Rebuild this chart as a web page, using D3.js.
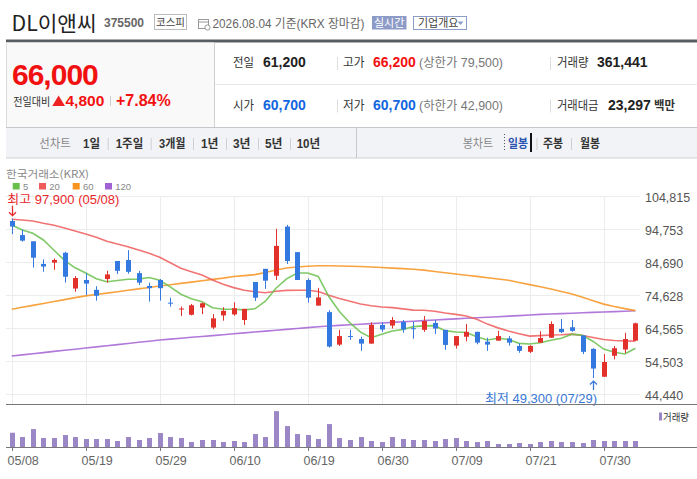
<!DOCTYPE html>
<html><head><meta charset="utf-8">
<script src="https://cdn.jsdelivr.net/npm/d3@7"></script>
<style>
html,body{margin:0;padding:0;background:#fff;}
svg{display:block;}
</style>
</head><body>
<svg id="c" width="697" height="479"></svg>
<script>
// ---------- data ----------
const dates = ["05/08","05/11","05/12","05/13","05/14","05/15","05/18","05/19","05/20","05/21",
"05/22","05/26","05/27","05/28","05/29","06/01","06/02","06/04","06/05","06/08",
"06/09","06/10","06/11","06/12","06/15","06/16","06/17","06/18","06/19","06/22",
"06/23","06/24","06/25","06/26","06/29","06/30","07/01","07/02","07/03","07/06",
"07/07","07/08","07/09","07/10","07/13","07/14","07/15","07/16","07/20","07/21",
"07/22","07/23","07/24","07/27","07/28","07/29","07/30","07/31","08/03","08/04"];
const openP = [97200,92900,91000,84100,84500,87500,76600,79200,76200,79500,
85000,85300,81300,77400,79200,72300,70200,68600,70800,64700,
68400,68700,67000,78600,82600,80500,95500,87700,79200,71400,
69400,59500,62100,61200,59800,65500,65300,66400,64500,64000,
66100,64000,59200,61900,63400,60400,60700,61400,59100,57300,
60100,61600,64300,64800,62300,58200,49700,56100,58000,60700];
const highP = [97900,94600,91000,85500,85800,87800,80400,81200,77300,82000,
85000,88300,82000,78400,79500,73800,71100,71900,72300,68800,
70900,72400,70400,78600,82600,94800,96000,87700,79700,76800,
70000,64000,64000,61900,66300,66300,67900,67000,66400,68200,
67000,64000,62100,65800,63400,61600,63700,62100,59900,59300,
63600,66600,67300,67000,62300,58400,56600,59100,63100,66200];
const lowP = [93200,90900,83000,81700,82300,78400,75600,74600,72900,78400,
81000,81100,77700,72600,72900,71100,68200,68400,68800,64200,
66800,68300,65500,72800,76500,79200,84100,79200,72300,71400,
58600,59100,60900,57600,59800,63400,64400,63100,61300,63400,
62700,57900,58300,60500,59600,57600,60700,59200,57000,56900,
60100,61600,63000,63400,56600,49300,49700,55000,56900,60700];
const closeP = [95500,91200,86000,83300,85300,80200,79800,78100,74400,80900,
82000,81700,78400,76700,76700,72000,70500,71500,72100,67500,
69800,70600,70400,73800,79000,89600,85000,79200,73800,73900,
58900,62100,61800,59800,65500,64100,67000,64100,64200,66700,
64400,59400,62100,63400,60100,59500,62100,60100,57600,59100,
61500,65800,63300,63700,57300,52200,54200,58400,61200,66000];
const volume = [862000,602000,1084000,542000,542000,723000,602000,482000,482000,482000,
361000,602000,422000,542000,843000,602000,542000,301000,422000,422000,
301000,361000,301000,783000,602000,2169000,1265000,783000,723000,482000,
1386000,542000,422000,602000,361000,301000,602000,482000,422000,422000,
361000,482000,542000,361000,301000,361000,181000,181000,241000,181000,
301000,361000,301000,301000,241000,422000,361000,361000,361000,361441];
const ma5 = [95970,94450,93440,91400,88260,85200,82920,81340,79560,78680,
79040,79420,79480,79940,79100,77100,74860,73480,72560,70720,
70280,70300,70080,70420,72720,76680,79560,81320,81320,80300,
74160,69580,66100,63300,61620,62660,63640,64100,64980,65220,
65280,63760,63360,63200,61880,60900,61440,61040,59880,59680,
60080,60820,61460,62680,62320,60460,58140,57160,56660,58400];
const ma20 = [97710,97500,97190,96490,95880,95060,94140,93230,92220,91000,
90180,89350,88350,87340,86120,84480,82770,81730,80730,79190,
77905,76875,76095,75620,75305,75775,76035,76090,76060,75710,
74555,73575,72745,71900,71340,70945,70770,70400,70005,69965,
69695,69135,68720,68200,67255,65750,64605,63650,62840,62100,
62230,62415,62490,62685,62275,61680,61040,60755,60605,60570];
const ma60 = [70270,70880,71460,72040,72650,73220,73830,74350,74780,75210,
75630,76060,76490,76910,77370,77770,78160,78560,78990,79380,
79780,80270,80540,80850,81490,82250,82860,83160,83380,83530,
83530,83470,83410,83320,83160,83010,82830,82680,82460,82220,
81790,81400,81030,80670,80300,79870,79510,79110,78440,77800,
77160,76430,75690,74930,73930,72890,71850,71120,70480,69870];
const ma120 = [56030,56360,56730,57060,57430,57770,58100,58470,58800,59140,
59500,59840,60200,60540,60910,61180,61450,61730,61970,62250,
62520,62800,63070,63350,63620,63860,64140,64410,64690,64960,
65170,65360,65540,65720,65910,66090,66270,66450,66640,66820,
67000,67190,67340,67520,67670,67860,68010,68190,68350,68530,
68710,68830,68960,69080,69200,69320,69440,69570,69690,69810];
const priceTicks = [44440,54503,64565,74628,84690,94753,104815];
const dateTicks = ["05/08","05/19","05/29","06/10","06/19","06/30","07/09","07/21","07/30"];
const maNames = ["5","20","60","120"];
const maColors = ["#68c04c","#ef5b5b","#f7931e","#a262d4"];

// header values
const stockName = "DL이앤씨", stockCode = "375500", market = "코스피";
const asOf = "2026.08.04 기준(KRX 장마감)";
const curPrice = "66,000", chg = "4,800", chgPct = "+7.84%";
const prevClose = "61,200", openTxt = "60,700", highTxt = "66,200", lowTxt = "60,700";
const upLimit = "(상한가 79,500)", downLimit = "(하한가 42,900)";
const volTxt = "361,441", amtTxt = "23,297";

// ---------- drawing ----------
const svg = d3.select("#c");
const LF = "'Liberation Sans','Noto Sans CJK KR',sans-serif";
const KF = "'Noto Sans CJK KR','Liberation Sans',sans-serif";
function txt(x, y, s, o = {}) {
  const t = svg.append("text").attr("x", x).attr("y", y).text(s)
    .attr("font-family", o.ff || KF).attr("font-size", o.fs || 12)
    .attr("fill", o.c || "#333");
  if (o.fw) t.attr("font-weight", o.fw);
  if (o.anchor) t.attr("text-anchor", o.anchor);
  if (o.tl) t.attr("textLength", o.tl).attr("lengthAdjust", "spacingAndGlyphs");
  if (o.ls !== undefined) t.attr("letter-spacing", o.ls);
  return t;
}
function hline(x1, x2, yy, c, w = 1) {
  svg.append("line").attr("x1", x1).attr("x2", x2).attr("y1", yy).attr("y2", yy)
    .attr("stroke", c).attr("stroke-width", w);
}
function vline(xx, y1, y2, c, w = 1, dash) {
  const l = svg.append("line").attr("x1", xx).attr("x2", xx).attr("y1", y1).attr("y2", y2)
    .attr("stroke", c).attr("stroke-width", w);
  if (dash) l.attr("stroke-dasharray", dash);
}

// title row
txt(11.5, 30.5, stockName, {fs: 21, c: "#222", tl: 85});
txt(104, 27, stockCode, {ff: LF, fs: 12, fw: "bold", c: "#666"});
svg.append("rect").attr("x", 154.5).attr("y", 14.5).attr("width", 32).attr("height", 15)
  .attr("fill", "#fff").attr("stroke", "#bbb");
txt(170.5, 26, market, {fs: 10.5, c: "#444", anchor: "middle"});
// calendar icon
svg.append("rect").attr("x", 198.5).attr("y", 19.5).attr("width", 10).attr("height", 9)
  .attr("fill", "none").attr("stroke", "#999");
hline(198.5, 208.5, 22, "#999");
svg.append("circle").attr("cx", 207.5).attr("cy", 27.5).attr("r", 2.6).attr("fill", "#fff").attr("stroke", "#999");
txt(212.5, 28, asOf, {ff: LF, fs: 12, c: "#666", tl: 152});
svg.append("rect").attr("x", 372).attr("y", 16).attr("width", 34.5).attr("height", 13.5).attr("fill", "#8d9bc7");
txt(389.2, 26.8, "실시간", {fs: 11, c: "#fff", anchor: "middle"});
svg.append("rect").attr("x", 413.5).attr("y", 16.5).attr("width", 53).attr("height", 13)
  .attr("fill", "#fff").attr("stroke", "#8d9bc7");
txt(418, 27, "기업개요", {fs: 11, c: "#444"});
svg.append("path").attr("d", "M457.5,21.5 L463.5,21.5 L460.5,25 Z").attr("fill", "#8d9bc7");

// thick line
svg.append("rect").attr("x", 6).attr("y", 39.5).attr("width", 691).attr("height", 3).attr("fill", "#585d64");

// quote panel
svg.append("rect").attr("x", 6).attr("y", 42.5).attr("width", 208).attr("height", 84.5).attr("fill", "#f9f9f9");
vline(6.5, 42.5, 158, "#dcdcdc");
vline(214.5, 42.5, 127, "#cfcfcf");
hline(215, 697, 84.5, "#e8e8e8");
txt(12, 84.5, curPrice, {ff: LF, fs: 30, fw: "bold", c: "#f21111", ls: -1});
txt(13.3, 106, "전일대비", {fs: 11, c: "#333", tl: 37});
svg.append("path").attr("d", "M52.3,106 L58.6,95.5 L65,106 Z").attr("fill", "#ee2222");
txt(65.5, 106, chg, {ff: LF, fs: 15.5, fw: "bold", c: "#f21111"});
vline(110.5, 96, 106, "#cccccc");
txt(116, 106, chgPct, {ff: LF, fs: 16, fw: "bold", c: "#f21111"});

const r1 = 67, r2 = 109.5;
txt(233, r1, "전일", {fs: 12.5, c: "#333", tl: 21});
txt(263, r1, prevClose, {ff: LF, fs: 14, fw: "bold", c: "#222"});
vline(337.5, 57, 70, "#dddddd");
txt(343, r1, "고가", {fs: 12.5, c: "#333", tl: 21.5});
txt(373, r1, highTxt, {ff: LF, fs: 14, fw: "bold", c: "#f21111"});
txt(419, r1, upLimit, {ff: LF, fs: 12, c: "#777", tl: 84});
vline(550.5, 57, 70, "#dddddd");
txt(557, r1, "거래량", {fs: 12.5, c: "#333", tl: 31.5});
txt(597, r1, volTxt, {ff: LF, fs: 14, fw: "bold", c: "#222"});

txt(233, r2, "시가", {fs: 12.5, c: "#333", tl: 21});
txt(263, r2, openTxt, {ff: LF, fs: 14, fw: "bold", c: "#1266e0"});
vline(337.5, 99.5, 112.5, "#dddddd");
txt(343, r2, "저가", {fs: 12.5, c: "#333", tl: 21.5});
txt(373, r2, lowTxt, {ff: LF, fs: 14, fw: "bold", c: "#1266e0"});
txt(419, r2, downLimit, {ff: LF, fs: 12, c: "#777", tl: 84});
vline(550.5, 99.5, 112.5, "#dddddd");
txt(557, r2, "거래대금", {fs: 12.5, c: "#333", tl: 41.5});
txt(608, r2, amtTxt, {ff: LF, fs: 14, fw: "bold", c: "#222"});
txt(654, r2, "백만", {fs: 12, fw: "bold", c: "#333", tl: 21});

// menu row
svg.append("rect").attr("x", 6).attr("y", 127.5).attr("width", 691).attr("height", 30.5).attr("fill", "#f2f3f7");
hline(6, 697, 127.5, "#c6c7cc");
hline(6, 697, 158, "#cfd0d4");
vline(356.5, 127.5, 158, "#c6c7cc");
const mb = 148;
txt(39.3, mb, "선차트", {fs: 12.5, c: "#888", tl: 31.5});
const menuItems = [["1일", 83, 17], ["1주일", 115.7, 27.5], ["3개월", 159, 26.5], ["1년", 201, 17.5], ["3년", 233, 17.5], ["5년", 265, 17.5], ["10년", 296.7, 23.5]];
menuItems.forEach(m => txt(m[1], mb, m[0], {ff: LF, fs: 12.5, fw: "bold", c: "#333", tl: m[2]}));
[107.7, 150.7, 193, 226, 258, 290].forEach(v => vline(v + 0.5, 138, 150, "#cfcfcf"));
txt(462.7, mb, "봉차트", {fs: 12.5, c: "#888", tl: 30.5});
vline(504.5, 134, 152, "#555", 1, "1,2");
txt(508, mb, "일봉", {fs: 12.5, fw: "bold", c: "#2a54b0", tl: 20});
svg.append("rect").attr("x", 530).attr("y", 133).attr("width", 2).attr("height", 19).attr("fill", "#111");
vline(537, 138, 150, "#cfcfcf");
txt(543, mb, "주봉", {fs: 12.5, fw: "bold", c: "#333", tl: 20});
vline(571.5, 138, 150, "#cfcfcf");
txt(580, mb, "월봉", {fs: 12.5, fw: "bold", c: "#333", tl: 20});

// ---------- chart ----------
const x = d3.scalePoint().domain(dates).range([11.7, 635.4]);
const y = d3.scaleLinear().domain([priceTicks[0], priceTicks[priceTicks.length - 1]]).range([394, 196]);
const yv = d3.scaleLinear().domain([0, 2600000]).range([447, 404]);

txt(6, 178, "한국거래소(KRX)", {fs: 10.5, c: "#888", tl: 83});
const legX = [12.7, 39, 72.7, 105];
maNames.forEach((n, i) => {
  svg.append("rect").attr("x", legX[i]).attr("y", 183).attr("width", 7).attr("height", 6.5).attr("fill", maColors[i]);
  txt(legX[i] + 10.3, 190, n, {ff: LF, fs: 9.5, c: "#888"});
});

const grid = svg.append("g");
priceTicks.forEach(t => {
  grid.append("line").attr("x1", 6).attr("x2", 640).attr("y1", Math.round(y(t)) + 0.5).attr("y2", Math.round(y(t)) + 0.5)
    .attr("stroke", "#ececec");
});
dateTicks.forEach(d => {
  const xx = Math.round(x(d)) + 0.5;
  grid.append("line").attr("x1", xx).attr("x2", xx).attr("y1", 196).attr("y2", 404).attr("stroke", "#ececec");
});
priceTicks.forEach(t => {
  txt(645, Math.round(y(t)) + 6, d3.format(",")(t), {ff: LF, fs: 12.5, c: "#555"});
});

// moving averages
const lineGen = d3.line().x((d, i) => x(dates[i])).y(d => y(d));
[ma120, ma60, ma20, ma5].forEach((s, k) => {
  const col = [maColors[3], maColors[2], maColors[1], maColors[0]][k];
  svg.append("path").attr("d", lineGen(s)).attr("fill", "none").attr("stroke", col)
    .attr("stroke-width", 1.6).attr("stroke-opacity", 0.85);
});

// candles
const up = "#e2302b", dn = "#3479e0";
const cg = svg.append("g");
dates.forEach((d, i) => {
  const o = openP[i], c = closeP[i], h = highP[i], l = lowP[i];
  const col = c >= o ? up : dn;
  const cx = Math.round(x(d));
  cg.append("line").attr("x1", cx + 0.5).attr("x2", cx + 0.5).attr("y1", y(h)).attr("y2", y(l))
    .attr("stroke", col).attr("stroke-width", 1);
  const top = y(Math.max(o, c)), bot = y(Math.min(o, c));
  cg.append("rect").attr("x", cx - 2).attr("y", top).attr("width", 5).attr("height", Math.max(1, bot - top))
    .attr("fill", col);
});

// high / low markers
const iHi = highP.indexOf(d3.max(highP)), iLo = lowP.indexOf(d3.min(lowP));
txt(7.3, 204, "최고 " + d3.format(",")(highP[iHi]) + " (" + dates[iHi] + ")", {ff: LF, fs: 12.5, c: "#e8282b", tl: 112});
const hx = Math.round(x(dates[iHi])) + 0.5, hy = y(highP[iHi]) - 3;
svg.append("path").attr("d", `M${hx},${hy - 10} L${hx},${hy} M${hx - 3.5},${hy - 3.5} L${hx},${hy} L${hx + 3.5},${hy - 3.5}`)
  .attr("stroke", "#e8282b").attr("stroke-width", 1.3).attr("fill", "none");
const lx = Math.round(x(dates[iLo])) + 0.5, ly = y(lowP[iLo]) + 3;
svg.append("path").attr("d", `M${lx},${ly + 9} L${lx},${ly} M${lx - 3.5},${ly + 3.5} L${lx},${ly} L${lx + 3.5},${ly + 3.5}`)
  .attr("stroke", "#3a78d4").attr("stroke-width", 1.3).attr("fill", "none");
txt(597, 403, "최저 " + d3.format(",")(lowP[iLo]) + " (" + dates[iLo] + ")", {ff: LF, fs: 12.5, c: "#3a78d4", anchor: "end", tl: 112});

// axes lines
hline(6, 697, 404.5, "#777");
// volume
const vg = svg.append("g");
dates.forEach((d, i) => {
  const cx = Math.round(x(d));
  vg.append("rect").attr("x", cx - 2).attr("y", yv(volume[i])).attr("width", 5).attr("height", 447 - yv(volume[i]))
    .attr("fill", "#9b86c6");
});
hline(6, 697, 447.5, "#777");
dateTicks.forEach(d => {
  const xx = Math.round(x(d)) + 0.5;
  vline(xx, 447.5, 451, "#777");
  txt(Math.round(x(d)) - 4.5, 464.5, d, {ff: LF, fs: 12.5, c: "#666"});
});
svg.append("rect").attr("x", 659).attr("y", 412.5).attr("width", 3).attr("height", 8).attr("fill", "#9b86c6");
txt(663, 421, "거래량", {fs: 10, c: "#333", tl: 26});
</script>
</body></html>
